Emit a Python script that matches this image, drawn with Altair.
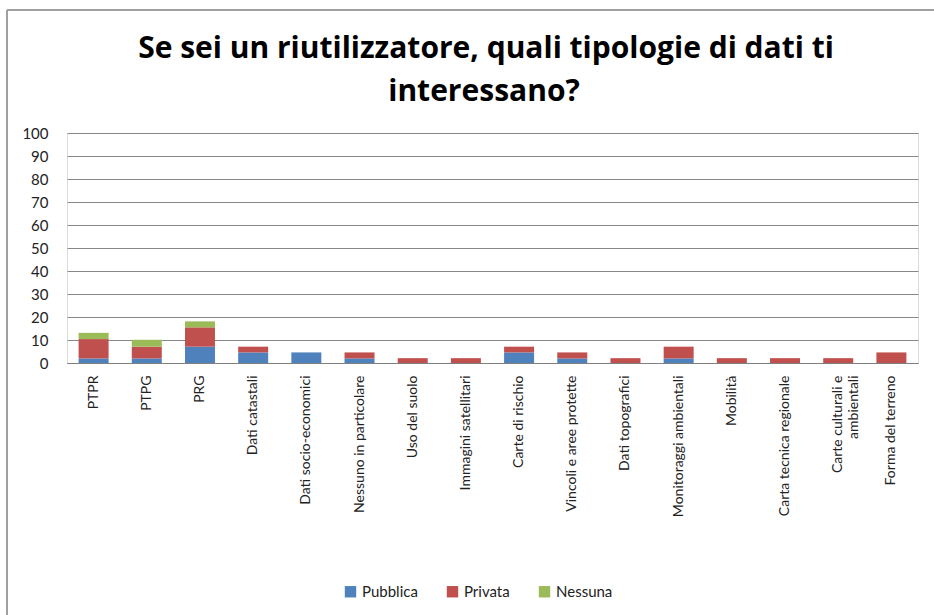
import altair as alt
import pandas as pd

categories = ["PTPR", "PTPG", "PRG", "Dati catastali", "Dati socio-economici",
              "Nessuno in particolare", "Uso del suolo", "Immagini satellitari",
              "Carte di rischio", "Vincoli e aree protette", "Dati topografici",
              "Monitoraggi ambientali", "Mobilità", "Carta tecnica regionale",
              "Carte culturali e|ambientali", "Forma del terreno"]
pubblica = [2.0, 2.0, 7.1, 4.6, 4.6, 2.0, 0, 0, 4.6, 2.0, 0, 2.0, 0, 0, 0, 0]
privata = [8.4, 5.1, 8.4, 2.5, 0, 2.6, 2.1, 2.1, 2.5, 2.6, 2.1, 5.1, 2.1, 2.1, 2.1, 4.6]
nessuna = [2.7, 3.0, 2.6, 0, 0, 0, 0, 0, 0, 0, 0, 0, 0, 0, 0, 0]
series = ["Pubblica", "Privata", "Nessuna"]
colors = ["#4F81BD", "#C0504D", "#9BBB59"]
title_lines = ["Se sei un riutilizzatore, quali tipologie di dati ti", "interessano?"]

rows = []
for i, c in enumerate(categories):
    for k, (s, vals) in enumerate(zip(series, [pubblica, privata, nessuna])):
        rows.append({"cat": c, "serie": s, "val": vals[i], "ord": k})
df = pd.DataFrame(rows)

FONT = "Lato"
TFONT = "Open Sans"

bars = alt.Chart(df).mark_bar(size=30).encode(
    x=alt.X("cat:N", sort=categories, title=None,
            axis=alt.Axis(labelAngle=-90, labelFontSize=14, labelFont=FONT,
                          labelColor="#222222", labelPadding=12, ticks=False,
                          domainColor="#808080", domainWidth=1,
                          labelExpr="split(datum.label, '|')", labelLineHeight=16)),
    y=alt.Y("val:Q", stack="zero", title=None,
            scale=alt.Scale(domain=[0, 100], nice=False),
            axis=alt.Axis(values=list(range(0, 101, 10)), labelFontSize=15,
                          labelFont=FONT, labelColor="#222222", domain=False,
                          ticks=False, labelPadding=19, gridColor="#888888",
                          gridWidth=1)),
    color=alt.Color("serie:N", sort=series,
                    scale=alt.Scale(domain=series, range=colors),
                    legend=alt.Legend(title=None, orient="none", direction="horizontal",
                                      legendX=276, legendY=451, symbolType="square",
                                      symbolSize=130, symbolStrokeWidth=0,
                                      labelFontSize=15, labelFont=FONT,
                                      labelColor="#222222", columnPadding=27,
                                      symbolOpacity=1)),
    order=alt.Order("ord:Q"),
)

frame = pd.DataFrame({"a": [0]})
top_border = alt.Chart(frame).mark_rule(color="#A0A0A0", strokeWidth=2).encode(
    x=alt.value(-60), x2=alt.value(870), y=alt.value(-123))
left_border = alt.Chart(frame).mark_rule(color="#A0A0A0", strokeWidth=2).encode(
    x=alt.value(-60), y=alt.value(-123), y2=alt.value(490))

title1 = alt.Chart(frame).mark_text(
    text=title_lines[0], font=TFONT, fontSize=30, fontWeight="bold",
    color="#000000", align="center", baseline="middle").encode(
    x=alt.value(419), y=alt.value(-84))
title2 = alt.Chart(frame).mark_text(
    text=title_lines[1], font=TFONT, fontSize=30, fontWeight="bold",
    color="#000000", align="center", baseline="middle").encode(
    x=alt.value(417), y=alt.value(-41))

chart = alt.layer(bars, top_border, left_border, title1, title2).properties(
    width=851, height=230,
    autosize=alt.AutoSizeParams(type="none"),
    padding={"left": 67, "top": 133, "right": 16, "bottom": 252},
).configure_view(stroke=None).configure(background="white")

chart.save("out.html", embed_options={"renderer": "svg", "actions": False})
